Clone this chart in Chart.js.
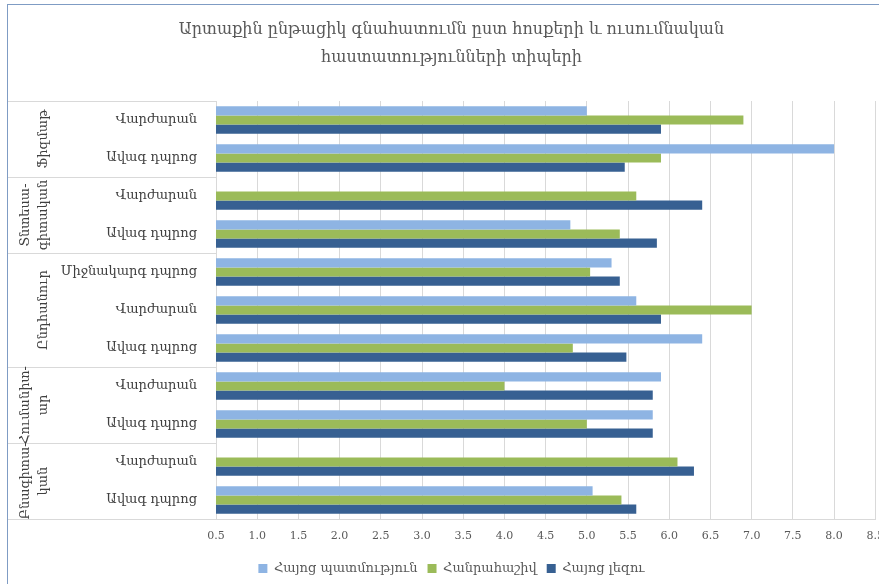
<!DOCTYPE html>
<html>
<head>
<meta charset="utf-8">
<script src="https://cdn.jsdelivr.net/npm/chart.js"></script>
<style>
    html, body { margin: 0; padding: 0; background: #fff; overflow: hidden; }
    #wrap {
        position: absolute; left: 7px; top: 4px; width: 887px; height: 580px;
        border-left: 1px solid #7f9cc4; border-top: 1px solid #7f9cc4;
    }
</style>
</head>
<body>
<div id="wrap"><canvas id="myChart"></canvas></div>
<script>
const subLabels = ['Վարժարան', 'Ավագ դպրոց', 'Վարժարան', 'Ավագ դպրոց', 'Միջնակարգ դպրոց',
    'Վարժարան', 'Ավագ դպրոց', 'Վարժարան', 'Ավագ դպրոց', 'Վարժարան', 'Ավագ դպրոց'];
const groupNames = [['Ֆիզմաթ'], ['Տնտեսա-', 'գիտական'], ['Ընդհանուր'], ['Հումանիտ-', 'ար'], ['Բնագիտա-', 'կան']];
const groupSizes = [2, 2, 3, 2, 2];

const seriesNames = ['Հայոց պատմություն', 'Հանրահաշիվ', 'Հայոց լեզու'];
const history = [5.0, 8.0, null, 4.8, 5.3, 5.6, 6.4, 5.9, 5.8, null, 5.07];
const algebra = [6.9, 5.9, 5.6, 5.4, 5.04, 7.0, 4.83, 4.0, 5.0, 6.1, 5.42];
const armenian = [5.9, 5.46, 6.4, 5.85, 5.4, 5.9, 5.48, 5.8, 5.8, 6.3, 5.6];

const xMin = 0.5, xMax = 8.5, xStep = 0.5;
const titleLines = ['Արտաքին ընթացիկ գնահատումն ըստ հոսքերի և ուսումնական', 'հաստատությունների տիպերի'];

const serif = "'DejaVu Serif', serif";
const ctx = document.getElementById('myChart').getContext('2d');

// group labels on the left, with the thin separators between them
const groupLabels = {
    id: 'groupLabels',
    afterDraw(chart) {
        const y = chart.scales.y;
        const area = chart.chartArea;
        const c = chart.ctx;
        const half = (y.getPixelForValue(1) - y.getPixelForValue(0)) / 2;
        c.save();
        c.strokeStyle = '#d9d9d9';
        c.lineWidth = 1;
        c.beginPath();
        c.moveTo(0, Math.round(area.top) + 0.5);
        c.lineTo(area.left, Math.round(area.top) + 0.5);
        c.stroke();
        let idx = 0;
        groupNames.forEach((lines, g) => {
            const top = y.getPixelForValue(idx) - half;
            const bottom = y.getPixelForValue(idx + groupSizes[g] - 1) + half;
            c.beginPath();
            c.moveTo(0, Math.round(bottom) + 0.5);
            c.lineTo(area.left, Math.round(bottom) + 0.5);
            c.stroke();
            c.save();
            c.translate(36, (top + bottom) / 2);
            c.rotate(-Math.PI / 2);
            c.fillStyle = '#404040';
            c.font = '13px ' + serif;
            c.textAlign = 'center';
            c.textBaseline = 'middle';
            lines.forEach((t, i) => {
                c.fillText(t, 0, (i - lines.length + 1) * 18);
            });
            c.restore();
            idx += groupSizes[g];
        });
        c.restore();
    }
};

new Chart(ctx, {
    type: 'bar',
    data: {
        labels: subLabels,
        datasets: [
            { label: seriesNames[0], data: history, backgroundColor: '#8eb4e3' },
            { label: seriesNames[1], data: algebra, backgroundColor: '#9bbb59' },
            { label: seriesNames[2], data: armenian, backgroundColor: '#376092' }
        ]
    },
    options: {
        indexAxis: 'y',
        responsive: true,
        maintainAspectRatio: false,
        animation: false,
        categoryPercentage: 0.72,
        barPercentage: 1.0,
        layout: { padding: 0 },
        scales: {
            x: {
                min: xMin,
                max: xMax,
                afterFit(scale) { scale.height = 33; },
                ticks: {
                    stepSize: xStep,
                    padding: 11,
                    color: '#595959',
                    font: { family: serif, size: 11 },
                    callback: v => v.toFixed(1)
                },
                grid: { color: '#d9d9d9', drawTicks: false },
                border: { color: '#d9d9d9' }
            },
            y: {
                afterFit(scale) { scale.width = 208; },
                ticks: {
                    padding: 11,
                    color: '#404040',
                    font: { family: serif, size: 13 }
                },
                grid: { display: false },
                border: { display: false }
            }
        },
        plugins: {
            legend: {
                position: 'bottom',
                labels: {
                    boxWidth: 9,
                    boxHeight: 9,
                    color: '#595959',
                    font: { family: serif, size: 13 },
                    padding: 10
                }
            },
            title: {
                display: true,
                text: titleLines,
                color: '#595959',
                font: { family: serif, size: 16, weight: 'normal', lineHeight: 1.75 },
                padding: { top: 11, bottom: 29 }
            },
            tooltip: { enabled: false }
        }
    },
    plugins: [groupLabels]
});
</script>
</body>
</html>
